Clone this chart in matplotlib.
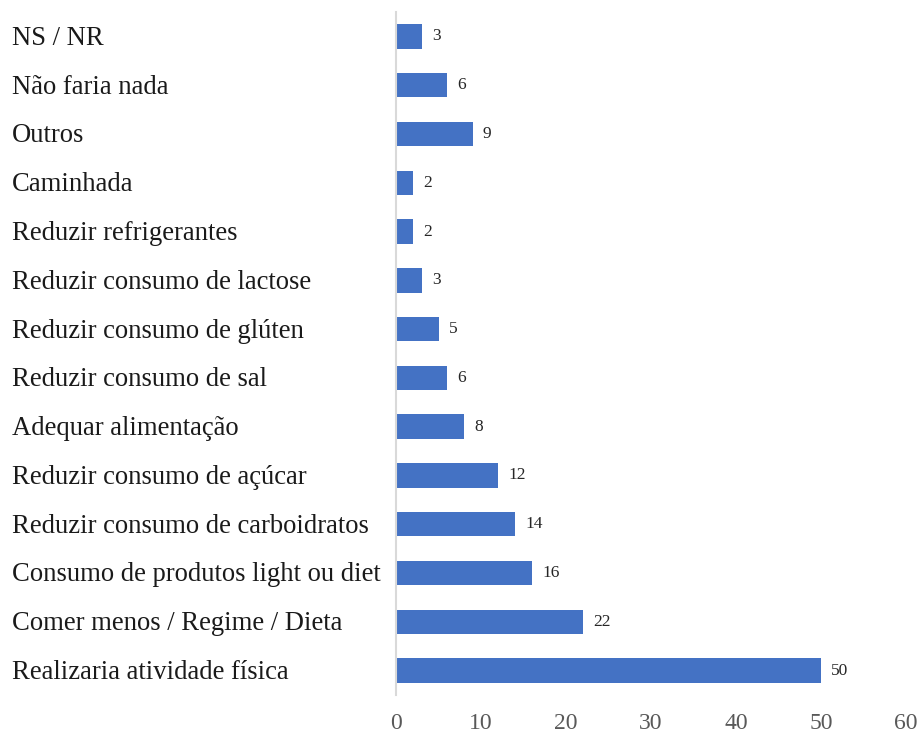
import matplotlib.pyplot as plt
from matplotlib.transforms import blended_transform_factory

categories = [
    'NS / NR',
    'Não faria nada',
    'Outros',
    'Caminhada',
    'Reduzir refrigerantes',
    'Reduzir consumo de lactose',
    'Reduzir consumo de glúten',
    'Reduzir consumo de sal',
    'Adequar alimentação',
    'Reduzir consumo de açúcar',
    'Reduzir consumo de carboidratos',
    'Consumo de produtos light ou diet',
    'Comer menos / Regime / Dieta',
    'Realizaria atividade física',
]
values = [3, 6, 9, 2, 2, 3, 5, 6, 8, 12, 14, 16, 22, 50]
xticks = [0, 10, 20, 30, 40, 50, 60]

plt.rcParams['font.family'] = ['Liberation Serif', 'DejaVu Serif']

fig = plt.figure(figsize=(9.23, 7.36), dpi=100)
ax = fig.add_axes([396 / 923, 41 / 736, (906 - 396) / 923, (695 - 12) / 736])

y = list(range(len(categories)))
ax.barh(y, values, height=0.5, color='#4472C4')
ax.set_ylim(len(categories) - 0.5, -0.5)
ax.set_xlim(0, 60)

for yi, v in zip(y, values):
    ax.text(v + 1.2, yi, str(v), va='center', ha='left', fontsize=12.5, color='#262626')

tr = blended_transform_factory(fig.transFigure, ax.transData)
for yi, lab in zip(y, categories):
    ax.text(12 / 923, yi + 0.04, lab, transform=tr, ha='left', va='center',
            fontsize=19.2, color='#1a1a1a')

ax.set_yticks([])
ax.set_xticks(xticks)
ax.tick_params(axis='x', length=0, pad=13, labelsize=17, labelcolor='#595959')
for s in ['top', 'right', 'bottom']:
    ax.spines[s].set_visible(False)
ax.spines['left'].set_color('#d9d9d9')
ax.spines['left'].set_linewidth(1.5)

fig.savefig('out.png', dpi=100)
